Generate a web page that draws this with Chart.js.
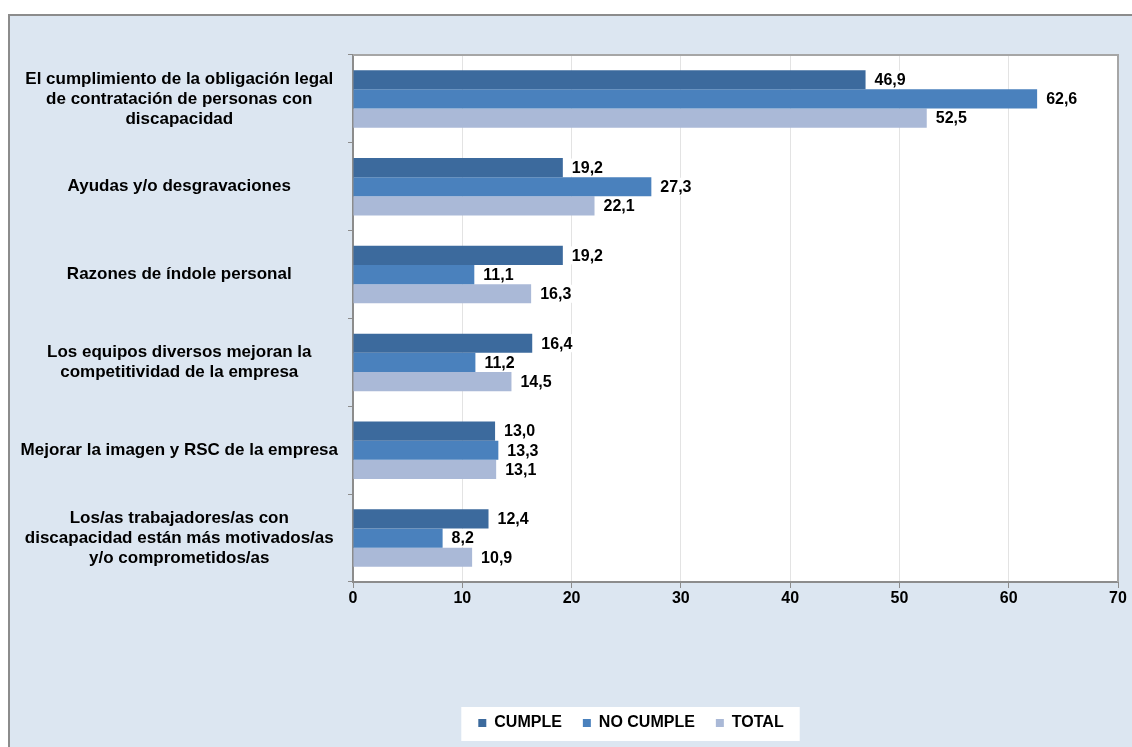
<!DOCTYPE html>
<html lang="es">
<head>
<meta charset="utf-8">
<title>Motivos de contratación</title>
<script src="https://cdn.jsdelivr.net/npm/chart.js@4/dist/chart.umd.min.js"></script>
<style>
  html, body { margin: 0; padding: 0; background: #fff; overflow: hidden; }
  #frame {
    position: absolute; left: 8px; top: 14px; width: 1130px; height: 740px;
    background: #dce6f1; border-left: 2px solid #8c8c8c; border-top: 2px solid #8c8c8c;
  }
  #wrap { position: absolute; left: 0; top: 0; width: 1132px; height: 747px; }
</style>
</head>
<body>
<div id="frame"></div>
<div id="wrap"><canvas id="chart" width="1132" height="747"></canvas></div>
<script>
// Motivos (cada uno puede ocupar varias líneas)
const categories = [
  ["El cumplimiento de la obligación legal", "de contratación de personas con", "discapacidad"],
  ["Ayudas y/o desgravaciones"],
  ["Razones de índole personal"],
  ["Los equipos diversos mejoran la", "competitividad de la empresa"],
  ["Mejorar la imagen y RSC de la empresa"],
  ["Los/as trabajadores/as con", "discapacidad están más motivados/as", "y/o comprometidos/as"]
];

const seriesNames = ["CUMPLE", "NO CUMPLE", "TOTAL"];
const cumple = [46.9, 19.2, 19.2, 16.4, 13.0, 12.4];
const noCumple = [62.6, 27.3, 11.1, 11.2, 13.3, 8.2];
const total = [52.5, 22.1, 16.3, 14.5, 13.1, 10.9];
const xTicks = [0, 10, 20, 30, 40, 50, 60, 70];

const colors = ["#3c6a9d", "#4a81bd", "#aab9d7"];
const FONT = "'Liberation Sans', Arial, sans-serif";

// fondo blanco del área de trazado y borde gris arriba/derecha
const plotFrame = {
  id: "plotFrame",
  afterLayout(chart) {
    // la leyenda se centra bajo el bloque etiquetas + gráfico
    chart.legend.left = 144;
  },
  beforeDraw(chart) {
    const { ctx, chartArea: a } = chart;
    ctx.save();
    ctx.fillStyle = "#fff";
    ctx.fillRect(a.left, a.top, a.right - a.left, a.bottom - a.top);
    // recuadro blanco de la leyenda
    const boxes = chart.legend.legendHitBoxes;
    if (boxes && boxes.length) {
      const first = boxes[0], last = boxes[boxes.length - 1];
      const x0 = first.left - 17, x1 = last.left + last.width + 16;
      ctx.fillRect(x0, first.top - 8, x1 - x0, first.height + 18);
    }
    ctx.restore();
  },
  afterDraw(chart) {
    const { ctx, chartArea: a } = chart;
    ctx.save();
    ctx.strokeStyle = "#a6a6a6";
    ctx.lineWidth = 2;
    ctx.beginPath();
    ctx.moveTo(a.left, a.top);
    ctx.lineTo(a.right, a.top);
    ctx.lineTo(a.right, a.bottom);
    ctx.stroke();
    ctx.restore();
  }
};

// etiquetas de valor con coma decimal
const valueLabels = {
  id: "valueLabels",
  afterDatasetsDraw(chart) {
    const ctx = chart.ctx;
    ctx.save();
    ctx.font = "bold 16px " + FONT;
    ctx.textBaseline = "middle";
    ctx.textAlign = "left";
    chart.data.datasets.forEach((ds, i) => {
      chart.getDatasetMeta(i).data.forEach((bar, j) => {
        const txt = ds.data[j].toFixed(1).replace(".", ",");
        const w = ctx.measureText(txt).width;
        const x = bar.x + 9;
        ctx.fillStyle = "#fff";
        ctx.fillRect(x - 2, bar.y - 9, w + 4, 18);
        ctx.fillStyle = "#000";
        ctx.fillText(txt, x, bar.y + 1);
      });
    });
    ctx.restore();
  }
};

new Chart(document.getElementById("chart"), {
  type: "bar",
  data: {
    labels: categories,
    datasets: [
      { label: seriesNames[0], data: cumple, backgroundColor: colors[0] },
      { label: seriesNames[1], data: noCumple, backgroundColor: colors[1] },
      { label: seriesNames[2], data: total, backgroundColor: colors[2] }
    ]
  },
  options: {
    indexAxis: "y",
    responsive: false,
    animation: false,
    datasets: { bar: { categoryPercentage: 0.655, barPercentage: 1.0 } },
    layout: { padding: { top: 55, left: 10, right: 14, bottom: 6 } },
    plugins: {
      legend: {
        position: "bottom",
        labels: {
          font: { size: 16, weight: "bold", family: FONT },
          color: "#000",
          boxWidth: 8,
          boxHeight: 8,
          padding: 21
        }
      },
      tooltip: { enabled: false }
    },
    scales: {
      x: {
        min: 0,
        max: 70,
        afterBuildTicks(scale) { scale.ticks = xTicks.map(v => ({ value: v })); },
        afterFit(scale) { scale.height = 112; },
        grid: { color: "#e3e3e3", tickColor: "#8c8c8c", tickLength: 6 },
        border: { color: "#8c8c8c", width: 2 },
        ticks: { padding: 1, color: "#000", font: { size: 16, weight: "bold", family: FONT } }
      },
      y: {
        afterFit(scale) { scale.width = 353 - 10; },
        grid: { drawOnChartArea: false, offset: true, color: "#8c8c8c", tickLength: 5 },
        border: { color: "#8c8c8c", width: 2 },
        ticks: {
          crossAlign: "center",
          padding: 10,
          color: "#000",
          font: { size: 17, weight: "bold", family: FONT, lineHeight: 1.18 }
        }
      }
    }
  },
  plugins: [plotFrame, valueLabels]
});
</script>
</body>
</html>
